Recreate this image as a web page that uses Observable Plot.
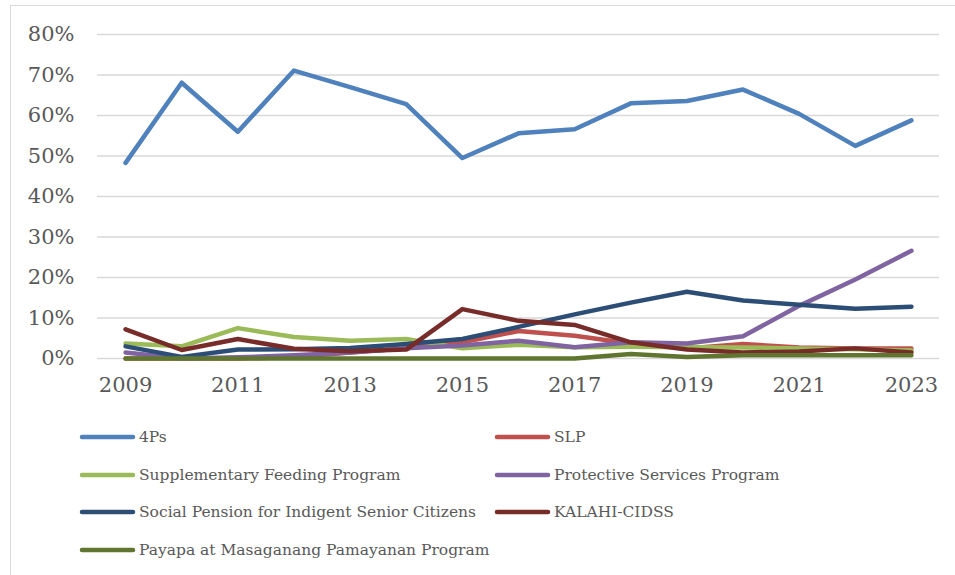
<!DOCTYPE html>
<html><head><meta charset="utf-8">
<script src="https://cdn.jsdelivr.net/npm/d3@7"></script>
<script src="https://cdn.jsdelivr.net/npm/@observablehq/plot@0.6"></script>
<style>
body{margin:0;background:#fff;}
#wrap{position:relative;width:955px;height:575px;overflow:hidden;font-family:"DejaVu Serif",serif;}
#frame{position:absolute;left:10px;top:5px;width:980px;height:620px;border-left:1.5px solid #d9d9d9;border-top:1.5px solid #d9d9d9;}
#chart{position:absolute;left:0;top:0;}
.leg{position:absolute;display:flex;align-items:center;font-size:15.5px;color:#595959;white-space:nowrap;transform:translateY(-50%);}
.leg svg{margin-right:3px;}
</style></head>
<body><div id="wrap"><div id="frame"></div><div id="chart"></div><div id="legend"></div></div>
<script>
const years = [2009,2010,2011,2012,2013,2014,2015,2016,2017,2018,2019,2020,2021,2022,2023];
const xTickYears = [2009,2011,2013,2015,2017,2019,2021,2023];
const yTicks = [0,0.1,0.2,0.3,0.4,0.5,0.6,0.7,0.8];

const names = ["4Ps","SLP","Supplementary Feeding Program","Protective Services Program",
  "Social Pension for Indigent Senior Citizens","KALAHI-CIDSS","Payapa at Masaganang Pamayanan Program"];
const colors = ["#4F81BD","#C0504D","#9BBB59","#8064A2","#2C4D75","#772C2A","#5F7530"];

// percent values
const fourPs = [48.3,68.1,56.0,71.1,67.0,62.8,49.5,55.6,56.6,63.0,63.6,66.4,60.4,52.5,58.8];
const slp    = [0,0,0,0.3,1.5,2.5,4.0,6.8,5.6,3.7,2.5,3.6,2.7,2.5,2.5];
const sfp    = [3.7,3.0,7.5,5.3,4.4,4.8,2.5,3.4,2.8,2.9,2.8,2.7,2.5,2.3,2.0];
const psp    = [1.5,0,0.3,0.8,1.5,2.5,3.2,4.4,2.8,4.0,3.7,5.5,13.0,19.5,26.6];
const socpen = [3.0,0.4,2.2,2.3,2.6,3.6,4.8,7.8,10.9,13.8,16.5,14.3,13.3,12.3,12.8];
const kalahi = [7.2,2.1,4.8,2.4,1.8,2.2,12.2,9.3,8.3,4.0,2.2,1.5,1.7,2.5,1.5];
const payapa = [0,0,0,0,0,0,0,0,0,1.1,0.4,0.8,0.8,0.8,0.8];

const seriesValues = [fourPs,slp,sfp,psp,socpen,kalahi,payapa];
const rows = names.flatMap((n,k) => years.map((yr,i) => ({program:n, year:yr, share:seriesValues[k][i]/100})));

const chart = Plot.plot({
  width:955, height:410,
  marginLeft:97, marginRight:16, marginTop:34, marginBottom:52,
  style:{fontFamily:"DejaVu Serif", fontSize:"21px", color:"#595959", background:"transparent", overflow:"visible"},
  x:{domain:[2008.5,2023.5]},
  y:{domain:[0,0.8]},
  color:{domain:names, range:colors},
  marks:[
    Plot.ruleY(yTicks, {stroke:"#d9d9d9", strokeWidth:1.5}),
    Plot.axisY({ticks:yTicks, tickFormat:d3.format(".0%"), tickSize:0, tickPadding:23, label:null, fontSize:21}),
    Plot.axisX({ticks:xTickYears, tickFormat:d => String(d), tickSize:0, tickPadding:19, label:null, fontSize:21}),
    Plot.line(rows, {x:"year", y:"share", z:"program", stroke:"program", strokeWidth:4.5,
      strokeLinecap:"round", strokeLinejoin:"round"})
  ]
});
document.getElementById("chart").appendChild(chart);

const legend = document.getElementById("legend");
names.forEach((n,i) => {
  const col = i % 2, row = Math.floor(i/2);
  const d = document.createElement("div");
  d.className = "leg";
  d.style.left = (col === 0 ? 78 : 493) + "px";
  d.style.top = (437 + row*37.7) + "px";
  d.innerHTML = `<svg width="58" height="8"><line x1="4" y1="4" x2="55" y2="4" stroke="${colors[i]}" stroke-width="4.5" stroke-linecap="round"/></svg><span>${n}</span>`;
  legend.appendChild(d);
});
</script>
</body></html>
